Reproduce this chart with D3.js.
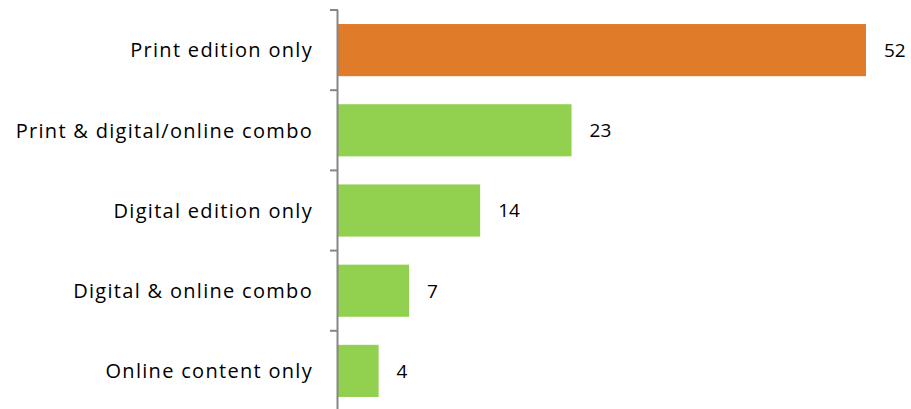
<!DOCTYPE html>
<html>
<head>
<meta charset="utf-8">
<script src="https://cdn.jsdelivr.net/npm/d3@7"></script>
<style>
  html, body { margin: 0; padding: 0; background: #fff; }
  svg { display: block; }
  text { font-family: "Open Sans", "Noto Sans", sans-serif; fill: #000; }
</style>
</head>
<body>
<svg id="chart" width="911" height="409"></svg>
<script>
// Share of respondents by edition format
const categories = [
  "Print edition only",
  "Print & digital/online combo",
  "Digital edition only",
  "Digital & online combo",
  "Online content only"
];
const values = [52, 23, 14, 7, 4];
const highlight = ["Print edition only"];

const svg = d3.select("#chart");

const x = d3.scaleLinear().domain([0, 52]).range([338, 866]);
const y = d3.scaleBand()
  .domain(categories)
  .range([10, 411])
  .paddingInner(0.35)
  .paddingOuter(0.175);

const rows = categories.map((c, i) => ({ c, v: values[i] }));

// bars
svg.append("g").selectAll("rect")
  .data(rows)
  .join("rect")
  .attr("x", x(0))
  .attr("y", d => y(d.c))
  .attr("width", d => x(d.v) - x(0))
  .attr("height", y.bandwidth())
  .attr("fill", d => highlight.includes(d.c) ? "#E07B29" : "#92D050");

// category axis with ticks at band boundaries
const gap = y.step() * y.paddingInner() / 2;
const boundaries = categories.map(c => y(c) - gap);
const axis = svg.append("g").attr("stroke", "#868686").attr("stroke-width", 2);
axis.append("line")
  .attr("x1", x(0) - 0.5).attr("x2", x(0) - 0.5)
  .attr("y1", boundaries[0]).attr("y2", 409);
axis.selectAll("line.tick")
  .data(boundaries)
  .join("line")
  .attr("class", "tick")
  .attr("x1", x(0) - 8).attr("x2", x(0))
  .attr("y1", d => d).attr("y2", d => d);

// category labels
svg.append("g").selectAll("text")
  .data(rows)
  .join("text")
  .attr("x", 313)
  .attr("y", d => y(d.c) + y.bandwidth() / 2)
  .attr("dy", "0.36em")
  .attr("text-anchor", "end")
  .attr("font-size", 20)
  .attr("letter-spacing", 1.3)
  .text(d => d.c);

// value labels
svg.append("g").selectAll("text")
  .data(rows)
  .join("text")
  .attr("x", d => x(d.v) + 18)
  .attr("y", d => y(d.c) + y.bandwidth() / 2)
  .attr("dy", "0.36em")
  .attr("font-size", 19)
  .text(d => d.v);
</script>
</body>
</html>
